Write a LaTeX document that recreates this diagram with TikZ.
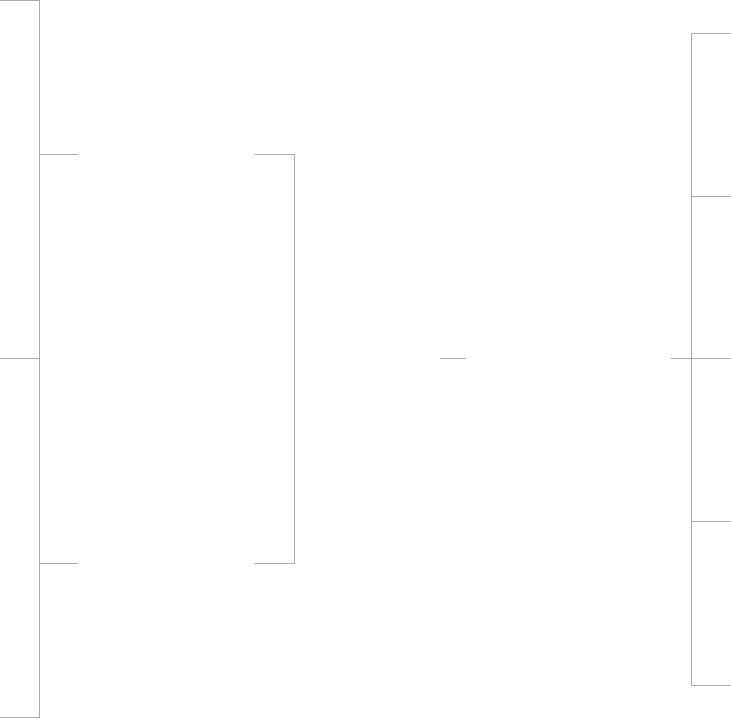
\documentclass[tikz,border=0pt]{standalone}
\definecolor{lineg}{RGB}{172,172,172}
\begin{document}
\begin{tikzpicture}[x=1pt,y=-1pt,
  box/.style={draw=lineg,line width=1pt,rectangle,inner sep=0pt,outer sep=0pt},
  conn/.style={draw=lineg,line width=1pt}]
\useasboundingbox[fill=white] (0,0) rectangle (731,718);
\clip (0,0) rectangle (731,718);
% left boxes
\node[box,minimum width=59pt,minimum height=357.5pt] (L1) at (9.5,179.25) {};
\node[box,minimum width=59pt,minimum height=359.5pt] (L2) at (9.5,537.75) {};
% right boxes
\node[box,minimum width=58.5pt,minimum height=163pt] (R1) at (720.75,115) {};
\node[box,minimum width=58.5pt,minimum height=162pt] (R2) at (720.75,277.5) {};
\node[box,minimum width=58.5pt,minimum height=163pt] (R3) at (720.75,440) {};
\node[box,minimum width=58.5pt,minimum height=163.5pt] (R4) at (720.75,603.25) {};
% middle group frame
\coordinate (G1) at (39,154.5);
\coordinate (G2) at (294.5,154.5);
\coordinate (G3) at (294.5,563.5);
\coordinate (G4) at (39,563.5);
\draw[conn] ([xshift=39pt]G1) -- (G1);
\draw[conn] ([xshift=-39.5pt]G2) -- (G2) -- (G3) -- ([xshift=-39.5pt]G3);
\draw[conn] (G4) -- ([xshift=39pt]G4);
% connectors
\coordinate (M1) at (440,358.5);
\coordinate (M2) at (466,358.5);
\draw[conn] (M1) -- (M2);
\coordinate (C1) at (671,358.5);
\draw[conn] (C1) -- (R3.north west);
\end{tikzpicture}
\end{document}
